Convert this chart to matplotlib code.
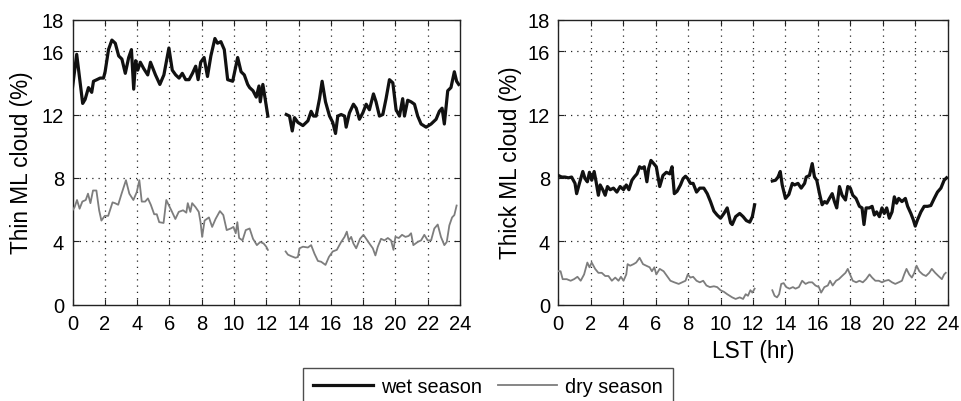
import numpy as np
import matplotlib
matplotlib.use("Agg")
import matplotlib.pyplot as plt

plt.rcParams['font.family'] = ['Liberation Sans', 'DejaVu Sans']

GAP = float('nan')

# ---------------- Thin ML cloud (left panel) ----------------
thin_wet_h = [0, 0.26, 0.63, 0.78, 0.99, 1.19, 1.30, 1.51, 1.71, 1.92, 2.02, 2.23, 2.44, 2.65, 2.86, 3.06,
              3.27, 3.48, 3.65, 3.79, 3.91, 4.04, 4.20, 4.41, 4.66, 4.83, 5.14, 5.41, 5.66, 5.97, 6.18, 6.39,
              6.60, 6.80, 7.01, 7.22, 7.43, 7.63, 7.78, 7.94, 8.15, 8.36, 8.57, 8.82, 8.98, 9.19, 9.40, 9.61,
              9.92, 10.23, 10.44, 10.64, 10.85, 10.97, 11.18, 11.38, 11.55, 11.63, 11.79, 11.9, 12.1,
              12.6,
              13.24, 13.44, 13.61, 13.75, 13.96, 14.27, 14.58, 14.78, 14.93, 15.09, 15.3, 15.46, 15.67, 15.92,
              16.12, 16.29, 16.43, 16.64, 16.85, 16.95, 17.15, 17.40, 17.57, 17.77, 17.98, 18.19, 18.39, 18.64,
              18.80, 19.01, 19.22, 19.42, 19.63, 19.84, 20.04, 20.25, 20.45, 20.56, 20.76, 20.97, 21.18, 21.38,
              21.59, 21.90, 22.21, 22.52, 22.72, 22.89, 23.03, 23.24, 23.44, 23.65, 23.79, 23.92]
thin_wet = [13.7, 15.8, 12.7, 12.95, 13.7, 13.4, 14.1, 14.2, 14.3, 14.3, 14.7, 16.1, 16.7, 16.5, 15.7, 15.5,
            14.6, 15.6, 16.1, 13.6, 15.4, 14.8, 15.3, 14.9, 14.5, 15.3, 14.5, 13.9, 14.5, 16.2, 14.8, 14.5,
            14.3, 14.6, 14.2, 14.2, 14.6, 15.05, 14.2, 15.3, 15.6, 14.4, 15.7, 16.8, 16.5, 16.6, 16.1, 14.2,
            14.1, 15.6, 14.7, 14.5, 13.9, 13.7, 13.5, 13.1, 13.8, 12.8, 13.9, 13.2, 11.9,
            GAP,
            12.0, 11.9, 10.96, 11.8, 11.5, 11.3, 11.6, 12.2, 11.9, 11.9, 13.0, 14.1, 12.8, 11.9,
            11.5, 10.8, 11.9, 12.0, 11.9, 11.2, 12.1, 12.65, 12.4, 11.7, 12.1, 12.65, 12.3, 13.3,
            12.8, 11.9, 12.0, 13.0, 14.2, 14.0, 12.3, 11.9, 13.0, 11.9, 12.9, 12.8, 12.65, 11.9,
            11.4, 11.2, 11.4, 11.7, 12.2, 12.4, 11.4, 13.5, 13.7, 14.7, 14.1, 13.9]

thin_dry_h = [0, 0.13, 0.28, 0.44, 0.61, 0.82, 0.96, 1.11, 1.27, 1.48, 1.65, 1.79, 2.0, 2.21, 2.48, 2.63,
              2.83, 3.04, 3.31, 3.52, 3.77, 3.98, 4.14, 4.29, 4.50, 4.67, 4.85, 5.06, 5.22, 5.37, 5.64, 5.81,
              5.95, 6.12, 6.37, 6.58, 6.85, 7.05, 7.14, 7.30, 7.41, 7.62, 7.82, 7.93, 8.03, 8.18, 8.45, 8.65,
              8.86, 9.13, 9.34, 9.55, 9.80, 9.97, 10.11, 10.21, 10.32, 10.53, 10.73, 10.97, 11.18, 11.42,
              11.63, 11.84, 12.0, 12.1,
              12.6,
              13.2, 13.34, 13.55, 13.81, 13.96, 14.06, 14.27, 14.58, 14.78, 14.99, 15.2, 15.4, 15.67, 15.88,
              16.12, 16.37, 16.64, 16.85, 16.99, 17.11, 17.26, 17.4, 17.57, 17.81, 18.02, 18.19, 18.39, 18.6,
              18.76, 18.91, 19.11, 19.32, 19.53, 19.73, 19.88, 20.0, 20.21, 20.41, 20.62, 20.82, 20.97, 21.11,
              21.38, 21.59, 21.79, 22.0, 22.21, 22.41, 22.62, 22.82, 23.03, 23.18, 23.34, 23.51, 23.65, 23.79]
thin_dry = [5.95, 6.15, 6.6, 6.05, 6.5, 6.6, 7.0, 6.4, 7.2, 7.2, 5.95, 5.3, 5.6, 5.6, 6.45, 6.4,
            6.3, 7.0, 7.85, 7.0, 6.6, 7.1, 7.85, 6.5, 6.5, 6.7, 6.3, 5.7, 5.7, 5.2, 5.15, 6.6,
            6.3, 5.95, 5.4, 5.85, 5.95, 5.8, 6.4, 5.85, 6.4, 6.15, 5.85, 5.2, 4.27, 5.3, 5.5, 4.9,
            5.4, 5.9, 5.65, 4.7, 4.8, 4.9, 4.5, 5.2, 4.2, 4.05, 4.7, 4.8, 4.15, 3.75,
            3.95, 3.85, 3.65, 3.45,
            GAP,
            3.35, 3.15, 3.05, 2.95, 3.0, 3.55, 3.65, 3.6, 3.75, 3.2, 2.75, 2.7, 2.5, 3.0,
            3.35, 3.45, 3.95, 4.27, 4.6, 4.05, 4.27, 3.85, 3.55, 4.15, 4.4, 4.15, 3.85, 3.55,
            3.1, 3.65, 4.15, 4.05, 4.2, 4.05, 3.45, 4.27, 4.2, 4.4, 4.27, 4.33, 4.5, 3.75,
            3.95, 4.05, 4.4, 4.05, 4.05, 4.8, 5.05, 4.27, 3.75, 3.95, 5.0, 5.5, 5.65, 6.25]

# ---------------- Thick ML cloud (right panel) ----------------
thick_wet_h = [0, 0.21, 0.41, 0.62, 0.82, 1.03, 1.13, 1.3, 1.51, 1.65, 1.79, 1.92, 2.06, 2.21, 2.33, 2.47,
               2.58, 2.74, 2.89, 3.03, 3.2, 3.4, 3.61, 3.81, 4.02, 4.19, 4.35, 4.54, 4.68, 4.85, 5.01, 5.15,
               5.3, 5.46, 5.57, 5.71, 5.88, 6.04, 6.25, 6.45, 6.66, 6.87, 7.01, 7.15, 7.32, 7.53, 7.69, 7.84,
               7.98, 8.14, 8.31, 8.52, 8.72, 8.97, 9.18, 9.38, 9.59, 9.79, 10.0, 10.21, 10.41, 10.62, 10.72,
               10.93, 11.18, 11.39, 11.59, 11.8, 11.96, 12.1,
               12.6,
               13.19, 13.39, 13.54, 13.68, 13.8, 14.0, 14.21, 14.42, 14.56, 14.77, 14.97, 15.18, 15.28, 15.48,
               15.65, 15.79, 15.93, 16.1, 16.26, 16.41, 16.55, 16.71, 16.88, 17.02, 17.16, 17.33, 17.49, 17.7,
               17.84, 18.0, 18.15, 18.35, 18.56, 18.72, 18.84, 18.97, 19.17, 19.34, 19.48, 19.62, 19.79, 19.95,
               20.09, 20.24, 20.4, 20.57, 20.71, 20.85, 20.98, 21.18, 21.39, 21.53, 21.73, 21.88, 22.0, 22.14,
               22.35, 22.55, 22.76, 22.96, 23.17, 23.37, 23.58, 23.78, 23.93]
thick_wet = [8.15, 8.05, 8.05, 8.0, 8.05, 7.65, 7.0, 7.65, 8.4, 7.95, 7.75, 8.35, 7.85, 8.4, 7.75, 6.9,
             7.55, 7.25, 6.9, 7.45, 7.25, 7.35, 7.1, 7.45, 7.25, 7.55, 7.25, 7.85, 8.05, 8.25, 8.7, 8.6,
             8.7, 7.75, 8.6, 9.1, 8.9, 8.7, 7.45, 8.15, 8.35, 8.25, 8.7, 7.0, 7.15, 7.55, 7.95, 8.1,
             7.95, 7.65, 7.65, 7.1, 7.35, 7.35, 7.0, 6.5, 5.9, 5.65, 5.45, 5.75, 6.1, 5.15, 5.05,
             5.55, 5.75, 5.55, 5.3, 5.2, 5.55, 6.3,
             GAP,
             7.8, 7.85, 8.05, 8.4, 7.55, 6.7, 6.95, 7.65, 7.55, 7.65, 7.35, 7.65, 8.05, 8.15,
             8.9, 8.05, 7.85, 7.0, 6.3, 6.5, 6.4, 6.7, 7.0, 6.5, 6.1, 7.45, 6.9, 6.6,
             7.45, 7.35, 6.9, 6.7, 6.2, 6.1, 5.05, 6.1, 6.1, 6.2, 5.65, 5.85, 5.55, 6.1,
             5.75, 6.1, 5.45, 5.85, 6.8, 6.4, 6.7, 6.5, 6.7, 6.2, 5.75, 5.35, 4.95, 5.35,
             5.85, 6.2, 6.2, 6.25, 6.7, 7.1, 7.35, 7.85, 8.0]

thick_dry_h = [0, 0.14, 0.27, 0.52, 0.76, 0.97, 1.18, 1.38, 1.59, 1.79, 1.92, 2.06, 2.27, 2.47, 2.68, 2.89,
               3.09, 3.3, 3.51, 3.71, 3.86, 4.02, 4.19, 4.27, 4.43, 4.64, 4.8, 5.01, 5.22, 5.42, 5.63, 5.77,
               5.92, 6.04, 6.25, 6.49, 6.7, 6.91, 7.15, 7.42, 7.63, 7.84, 7.98, 8.14, 8.31, 8.52, 8.72, 8.93,
               9.13, 9.34, 9.59, 9.79, 10.0, 10.21, 10.41, 10.72, 10.93, 11.18, 11.39, 11.55, 11.69, 11.84,
               11.96, 12.1,
               12.6,
               13.19, 13.33, 13.48, 13.61, 13.74, 13.89, 14.05, 14.25, 14.46, 14.62, 14.83, 15.03, 15.24, 15.44,
               15.65, 15.85, 16.06, 16.2, 16.4, 16.61, 16.75, 16.91, 17.12, 17.29, 17.49, 17.7, 17.84, 17.98,
               18.15, 18.36, 18.56, 18.77, 18.97, 19.18, 19.34, 19.54, 19.75, 19.95, 20.16, 20.36, 20.57, 20.77,
               20.98, 21.18, 21.32, 21.46, 21.63, 21.79, 21.94, 22.08, 22.25, 22.46, 22.66, 22.86, 23.02, 23.23,
               23.43, 23.64, 23.78, 23.88]
thick_dry = [2.1, 2.1, 1.6, 1.6, 1.5, 1.6, 1.75, 1.5, 1.9, 2.65, 2.35, 2.65, 2.25, 2.0, 2.0, 1.8,
             1.8, 1.5, 1.7, 1.5, 1.75, 1.5, 1.9, 2.55, 2.45, 2.55, 2.65, 2.95, 2.55, 2.45, 2.35, 2.1,
             2.35, 1.9, 2.25, 2.1, 1.8, 1.5, 1.4, 1.3, 1.4, 1.5, 1.9, 1.7, 1.75, 1.5, 1.4, 1.5,
             1.2, 1.1, 1.15, 1.1, 0.9, 0.8, 0.65, 0.45, 0.35, 0.45, 0.35, 0.65, 0.55, 0.9,
             0.75, 1.0,
             GAP,
             0.9, 0.55, 0.45, 0.65, 1.3, 1.35, 1.1, 1.0, 1.1, 1.0, 1.1, 1.5, 1.3, 1.4,
             1.4, 1.2, 1.1, 0.75, 1.1, 1.2, 1.5, 1.2, 1.5, 1.6, 1.8, 2.0, 2.25, 1.9,
             1.5, 1.4, 1.5, 1.4, 1.6, 1.9, 1.7, 1.5, 1.5, 1.4, 1.5, 1.55, 1.4, 1.3,
             1.4, 1.5, 1.9, 2.25, 1.9, 1.7, 2.0, 2.45, 2.1, 1.9, 1.8, 2.0, 2.25, 2.0,
             1.8, 1.6, 1.9, 2.0]

x_ticks = list(range(0, 25, 2))
y_ticks = [0, 4, 8, 12, 16, 18]
y_grid = [4, 8, 12, 16]
panel_labels = ["Thin ML cloud (%)", "Thick ML cloud (%)"]
series_labels = ["wet season", "dry season"]

TICK_FS = 14.5
LABEL_FS = 16.3
LEG_FS = 14.3
WET_COLOR = "#111111"
DRY_COLOR = "#7d7d7d"

fig = plt.figure(figsize=(9.61, 4.02), dpi=100)
ax1 = fig.add_axes([72.5 / 961, 1 - 305.5 / 402, 387.5 / 961, 285 / 402])
ax2 = fig.add_axes([558.3 / 961, 1 - 305.5 / 402, 389.4 / 961, 285 / 402])

panels = [(ax1, thin_wet_h, thin_wet, thin_dry_h, thin_dry, panel_labels[0], 22),
          (ax2, thick_wet_h, thick_wet, thick_dry_h, thick_dry, panel_labels[1], 510)]

handles = None
for ax, wh, wv, dh, dv, lab, lab_x in panels:
    hw, = ax.plot(wh, wv, color=WET_COLOR, lw=2.3, solid_joinstyle='round', zorder=3)
    hd, = ax.plot(dh, dv, color=DRY_COLOR, lw=1.3, zorder=3)
    handles = (hw, hd)
    ax.set_xlim(0, 24)
    ax.set_ylim(0, 18)
    ax.set_xticks(x_ticks)
    ax.set_yticks(y_ticks)
    ax.tick_params(direction='in', top=True, right=True, labelsize=TICK_FS, length=4,
                   width=0.8, color='#222222')
    ax.tick_params(axis='y', pad=6)
    ax.tick_params(axis='x', pad=7)
    for g in x_ticks[1:-1]:
        ax.axvline(g, color='#222222', lw=0.9, ls=(0, (1, 4)), zorder=1)
    for g in y_grid:
        ax.axhline(g, color='#222222', lw=0.9, ls=(0, (1, 4)), zorder=1)
    for s in ax.spines.values():
        s.set_linewidth(1.0)
        s.set_color('#222222')
    ax.set_ylabel(lab, fontsize=LABEL_FS, va='center')
    bbox = ax.get_position()
    ax.yaxis.set_label_coords((lab_x / 961 - bbox.x0) / bbox.width, 0.5)

ax2.set_xlabel("LST (hr)", fontsize=LABEL_FS)
ax2.xaxis.set_label_coords(0.5, (1 - 352 / 402 - (1 - 305.5 / 402)) / (285 / 402))
ax2.xaxis.label.set_va('center')

leg = fig.legend(handles, series_labels, loc='upper center', bbox_to_anchor=(488 / 961, 1 - 368.5 / 402),
                 ncol=2, fontsize=LEG_FS, frameon=True, fancybox=False, edgecolor='#222222',
                 handlelength=3.0, handletextpad=0.4, columnspacing=0.8, borderpad=0.5,
                 borderaxespad=0)
leg.get_frame().set_linewidth(1.0)

fig.savefig("out.png", dpi=100)
